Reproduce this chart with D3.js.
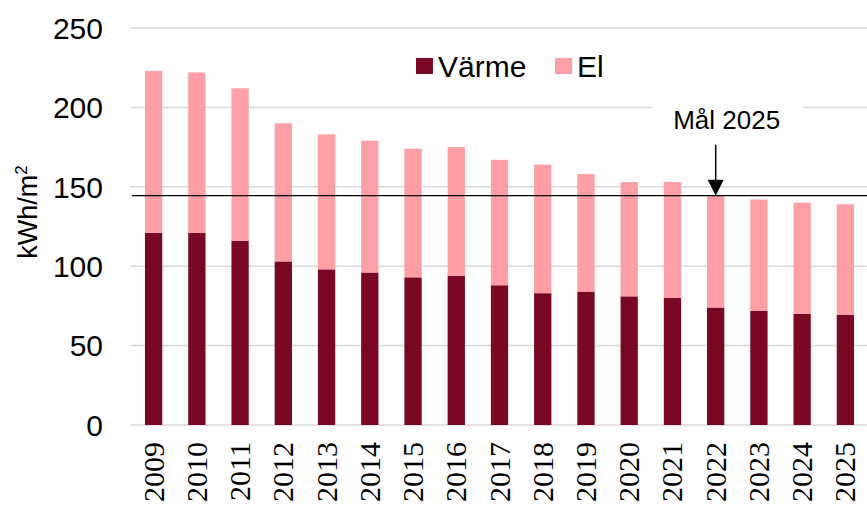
<!DOCTYPE html>
<html>
<head>
<meta charset="utf-8">
<script src="https://cdn.jsdelivr.net/npm/d3@7"></script>
<style>
  body { margin: 0; background: #fff; }
  svg { display: block; }
  text { font-family: "Liberation Sans", Arial, sans-serif; fill: #000; }
  text.yr { font-family: "Liberation Serif", "Times New Roman", serif; }
</style>
</head>
<body>
<svg id="chart" width="867" height="506"></svg>
<script>
var years = ["2009","2010","2011","2012","2013","2014","2015","2016","2017",
             "2018","2019","2020","2021","2022","2023","2024","2025"];
var varme = [121,121,116,103,98,96,93,94,88,83,84,81,80,74,72,70,69.5];
var el    = [102,101,96,87,85,83,81,81,79,81,74,72,73,70.5,70,70,69.5];
var yTicks = [0,50,100,150,200,250];
var target = 144.4;
var targetYear = "2022";
var seriesNames = ["Värme","El"];
var colors = ["#7A0723","#FF9EA4"];

var svg = d3.select("#chart");
var margin = {left: 132, right: 0, top: 28, bottom: 81};
var width = 867 - margin.left - margin.right;
var height = 506 - margin.top - margin.bottom;

var g = svg.append("g").attr("transform", `translate(${margin.left},${margin.top})`);

var x = d3.scaleBand().domain(years).range([0, width]).paddingInner(0.6).paddingOuter(0.3);
var y = d3.scaleLinear().domain([0, 250]).range([height, 0]);

// gridlines
g.selectAll(".grid")
  .data(yTicks)
  .join("line")
  .attr("class", "grid")
  .attr("x1", -2).attr("x2", width)
  .attr("y1", d => y(d)).attr("y2", d => y(d))
  .attr("stroke", "#d9d9d9")
  .attr("stroke-width", 1.5);

// y tick labels
g.selectAll(".ytick")
  .data(yTicks)
  .join("text")
  .attr("class", "ytick")
  .attr("x", -29)
  .attr("y", d => y(d))
  .attr("dy", "0.36em")
  .attr("text-anchor", "end")
  .style("font-size", "30px")
  .text(d => d);

// y axis title
svg.append("text")
  .attr("transform", "translate(37,212) rotate(-90)")
  .attr("text-anchor", "middle")
  .style("font-size", "27px")
  .html('kWh/m<tspan dy="-10" style="font-size:17px">2</tspan>');

// stacked bars
var rows = years.map((yr, i) => ({year: yr, "Värme": varme[i], "El": el[i]}));
var stack = d3.stack().keys(seriesNames)(rows);

g.selectAll(".series")
  .data(stack)
  .join("g")
  .attr("class", "series")
  .attr("fill", (d, i) => colors[i])
  .selectAll("rect")
  .data(d => d)
  .join("rect")
  .attr("x", d => x(d.data.year))
  .attr("width", x.bandwidth())
  .attr("y", d => y(d[1]))
  .attr("height", d => y(d[0]) - y(d[1]));

// x labels
g.append("g").selectAll("text")
  .data(years)
  .join("text")
  .attr("class", "yr")
  .attr("transform", d => `translate(${x(d) + x.bandwidth() / 2 + 10},${height + 17}) rotate(-90)`)
  .attr("text-anchor", "end")
  .style("font-size", "30px")
  .text(d => d);

// target line
g.append("line")
  .attr("x1", 0).attr("x2", width)
  .attr("y1", y(target)).attr("y2", y(target))
  .attr("stroke", "#000")
  .attr("stroke-width", 1.3);

// annotation
var ax = x(targetYear) + x.bandwidth() / 2;
g.append("rect")
  .attr("x", ax - 63).attr("y", y(200) - 3)
  .attr("width", 150).attr("height", 6)
  .attr("fill", "#fff");
g.append("text")
  .attr("x", ax + 11).attr("y", y(200) + 22)
  .attr("text-anchor", "middle")
  .style("font-size", "26px")
  .text("Mål 2025");
g.append("line")
  .attr("x1", ax).attr("x2", ax)
  .attr("y1", y(target) - 51).attr("y2", y(target) - 14)
  .attr("stroke", "#000").attr("stroke-width", 1.5);
g.append("path")
  .attr("d", `M${ax - 8},${y(target) - 16} L${ax + 8},${y(target) - 16} L${ax},${y(target)} Z`)
  .attr("fill", "#000");

// legend
var legend = svg.append("g").attr("transform", "translate(416,58)");
var li = legend.selectAll("g")
  .data(seriesNames)
  .join("g")
  .attr("transform", (d, i) => `translate(${i * 139},0)`);
li.append("rect")
  .attr("width", 17).attr("height", 16)
  .attr("fill", (d, i) => colors[i]);
li.append("text")
  .attr("x", 22).attr("y", 8)
  .attr("dy", "0.36em")
  .style("font-size", "30px")
  .text(d => d);
</script>
</body>
</html>
